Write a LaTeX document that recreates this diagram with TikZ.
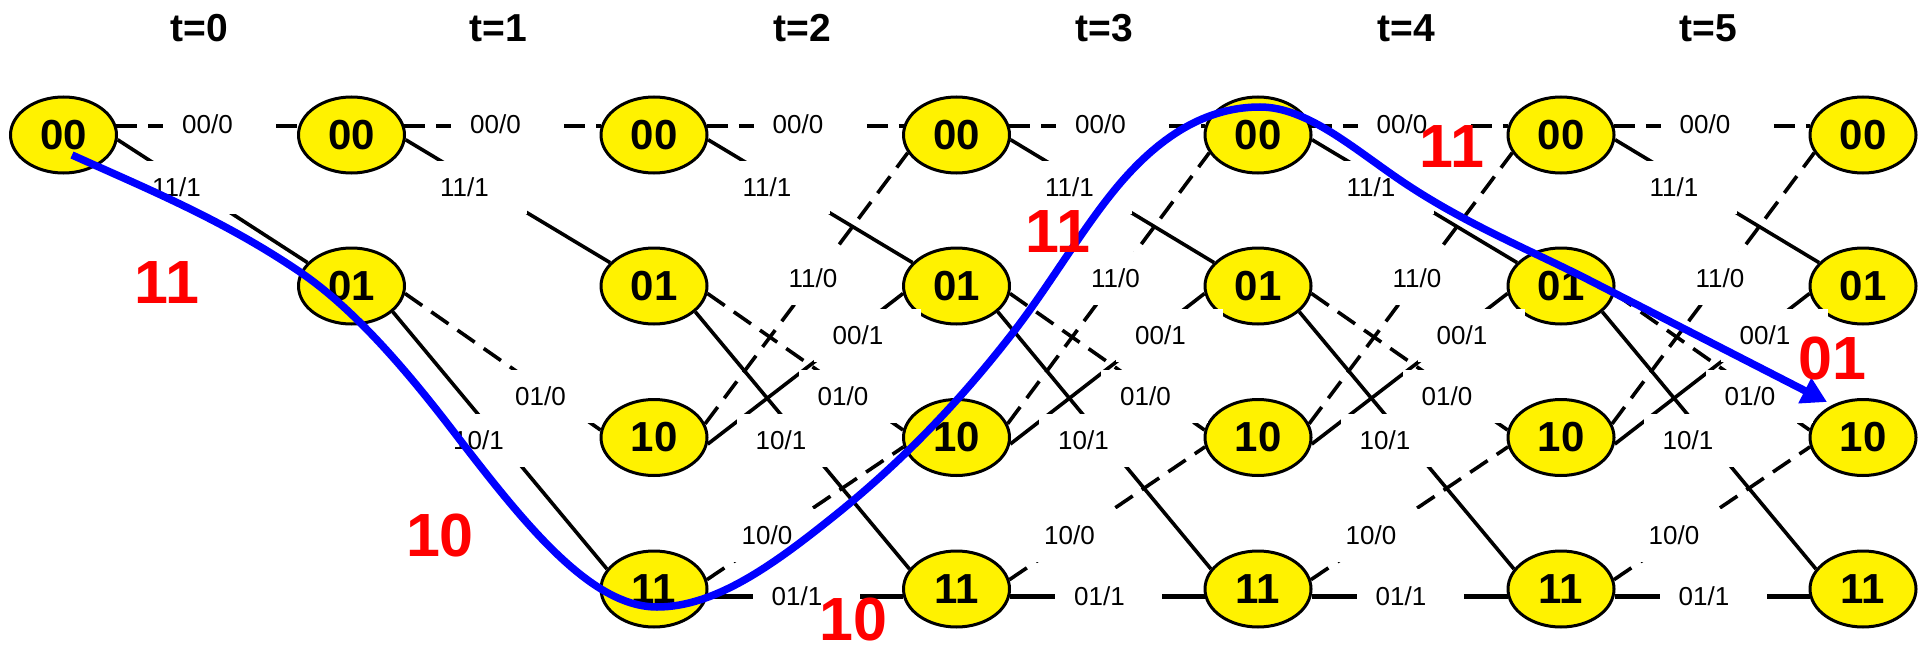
\documentclass[tikz,border=0pt]{standalone}
\usepackage{fontspec}
\setmainfont{Liberation Sans}
\usetikzlibrary{shapes.geometric,arrows.meta}
\begin{document}
\begin{tikzpicture}[x=1pt,y=-1pt,
  st/.style={ellipse,draw=black,line width=3pt,fill=yellow,minimum width=106pt,minimum height=76pt,inner sep=0pt,font=\fontsize{42}{42}\selectfont\bfseries},
  hdr/.style={inner sep=0pt,font=\fontsize{39}{39}\selectfont\bfseries},
  lbl/.style={fill=white,minimum width=107pt,minimum height=53pt,inner sep=0pt,font=\fontsize{26}{26}\selectfont},
  solidedge/.style={line width=3.6pt},
  dashedge/.style={line width=3.6pt,dash pattern=on 21pt off 11pt},
  flatedge/.style={line width=4.2pt},
  redlbl/.style={inner sep=0pt,text=red,font=\fontsize{61}{61}\selectfont\bfseries},
  path/.style={draw=blue,line width=7.5pt,-{Triangle[length=25pt,width=27pt]}}
]
\useasboundingbox (0,0) rectangle (1927,650);
% headers
\foreach \i/\x in {0/199,1/498,2/802,3/1104,4/1406,5/1708}
  \node[hdr] (h\i) at (\x,28) {t=\i};
% states
\node[st] (s0-00) at (63.5,135) {00};
\node[st] (s1-00) at (351.5,135) {00};
\node[st] (s1-01) at (351.5,286) {01};
\foreach \k/\x in {2/654,3/956.5,4/1258,5/1561,6/1863} {
  \node[st] (s\k-00) at (\x,135) {00};
  \node[st] (s\k-01) at (\x,286) {01};
  \node[st] (s\k-10) at (\x,437.5) {10};
  \node[st] (s\k-11) at (\x,589) {11};
}
% edges
\foreach \k/\n in {0/1,1/2,2/3,3/4,4/5,5/6} {
  \draw[dashedge,flatedge] (s\k-00.10) -- (s\n-00.170);
  \draw[solidedge] (s\k-00.-5) -- (s\n-01.152);
}
\foreach \k/\n in {1/2,2/3,3/4,4/5,5/6} {
  \draw[dashedge] (s\k-01.-8) -- (s\n-10.172);
  \draw[solidedge] (s\k-01.-32) -- (s\n-11.157);
}
\foreach \k/\n in {2/3,3/4,4/5,5/6} {
  \draw[dashedge] (s\k-10.15) -- (s\n-00.200);
  \draw[solidedge] (s\k-10.-7) -- (s\n-01.188);
  \draw[dashedge] (s\k-11.10) -- (s\n-10.190);
  \draw[flatedge] (s\k-11.-8) -- (s\n-11.188);
}
% edge labels
\foreach \k/\x in {0/63.5,1/351.5,2/654,3/956.5,4/1258,5/1561} {
  \node[lbl] (la\k) at ({\x+153},124) {\kern-18pt 00/0};
  \node[lbl] (lb\k) at ({\x+122},187) {\kern-18pt 11/1};
}
\foreach \k/\x in {1/351.5,2/654,3/956.5,4/1258,5/1561} {
  \node[lbl] (lc\k) at ({\x+198},396) {\kern-18pt 01/0};
  \node[lbl] (ld\k) at ({\x+136},440) {\kern-18pt 10/1};
}
\foreach \k/\x in {2/654,3/956.5,4/1258,5/1561} {
  \node[lbl] (le\k) at ({\x+168},278) {\kern-18pt 11/0};
  \node[lbl] (lf\k) at ({\x+213},335) {\kern-18pt 00/1};
  \node[lbl] (lg\k) at ({\x+122},535) {\kern-18pt 10/0};
  \node[lbl] (lh\k) at ({\x+152},596) {\kern-18pt 01/1};
}
% decoded path
\coordinate (pstart) at (72,155);
\coordinate (pend) at (1827,402);
\draw[path] (pstart)
  .. controls (148,189.2) and (224,220.3) .. (300,272)
  .. controls (350,306) and (400,362) .. (450,427)
  .. controls (519,516.7) and (588,607) .. (657,607)
  .. controls (715.7,607) and (774.3,564) .. (833,517)
  .. controls (893.7,468.5) and (954.3,408.9) .. (1015,330)
  .. controls (1049,285.8) and (1083,227.8) .. (1117,187)
  .. controls (1164.7,129.8) and (1212.3,107) .. (1260,107)
  .. controls (1306.7,107) and (1353.3,148.3) .. (1400,180)
  .. controls (1461,221.5) and (1522,246.5) .. (1583,277)
  -- (pend);
% received symbols
\node[redlbl] (r1) at (167,283) {11};
\node[redlbl] (r2) at (440,535) {10};
\node[redlbl] (r3) at (853,619) {10};
\node[redlbl] (r4) at (1058,232) {11};
\node[redlbl] (r5) at (1452,147) {11};
\node[redlbl] (r6) at (1832,358) {01};
\end{tikzpicture}
\end{document}
